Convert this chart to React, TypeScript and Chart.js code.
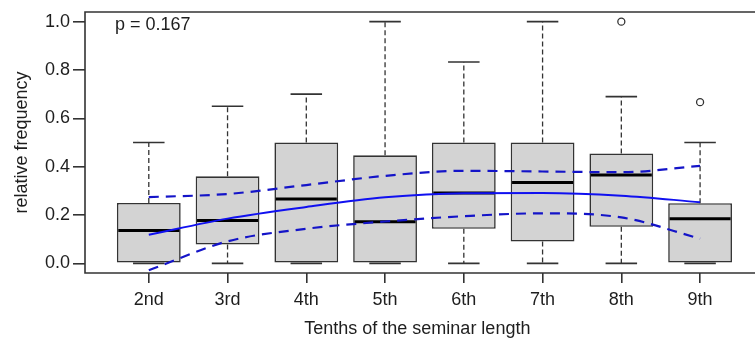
import React, { useEffect, useRef } from 'react';
import { Chart, registerables } from 'chart.js';

Chart.register(...registerables);

const categories = ['2nd', '3rd', '4th', '5th', '6th', '7th', '8th', '9th'];
const whiskerLow = [0, 0, 0, 0, 0, 0, 0, 0];
const q1 = [0, 0.078, 0, 0, 0.143, 0.09, 0.151, 0];
const median = [0.136, 0.177, 0.266, 0.172, 0.291, 0.335, 0.366, 0.184];
const q3 = [0.25, 0.36, 0.5, 0.447, 0.5, 0.5, 0.455, 0.249];
const whiskerHigh = [0.5, 0.65, 0.7, 1.0, 0.833, 1.0, 0.69, 0.5];
const outlierCat = [7, 8];
const outlierVal = [1.0, 0.667];
const fitLine = [0.118, 0.185, 0.233, 0.273, 0.29, 0.291, 0.28, 0.253];
const upperBand = [0.274, 0.287, 0.324, 0.362, 0.383, 0.38, 0.377, 0.403];
const lowerBand = [-0.029, 0.091, 0.143, 0.173, 0.195, 0.207, 0.19, 0.102];
const yTicks = [0, 0.2, 0.4, 0.6, 0.8, 1.0];
const pLabel = 'p = 0.167';

const FONT = '"Liberation Sans", Arial, sans-serif';
const TEXT = '#1e1e1e';
const LINE = '#333333';

export default function App() {
  const ref = useRef<HTMLCanvasElement>(null);

  useEffect(() => {
    document.body.style.margin = '0';
    const canvas = ref.current;
    if (!canvas) return;

    const boxExtras = {
      id: 'boxExtras',
      afterDatasetDraw(chart: any, args: any) {
        if (args.index !== 0) return;
        const xs = chart.scales.x;
        const ys = chart.scales.y;
        const c = chart.ctx as CanvasRenderingContext2D;
        c.save();
        categories.forEach((_, i) => {
          const xc = xs.getPixelForValue(i + 1);
          const hb = xs.getPixelForValue(i + 1.4) - xc;
          const hc = xs.getPixelForValue(i + 1.2) - xc;
          c.strokeStyle = LINE;
          c.lineWidth = 1.3;
          c.setLineDash([5, 3]);
          c.beginPath();
          c.moveTo(xc, ys.getPixelForValue(q3[i]));
          c.lineTo(xc, ys.getPixelForValue(whiskerHigh[i]));
          if (q1[i] > whiskerLow[i]) {
            c.moveTo(xc, ys.getPixelForValue(q1[i]));
            c.lineTo(xc, ys.getPixelForValue(whiskerLow[i]));
          }
          c.stroke();
          c.setLineDash([]);
          c.lineWidth = 1.6;
          c.beginPath();
          const yh = ys.getPixelForValue(whiskerHigh[i]);
          const yl = ys.getPixelForValue(whiskerLow[i]);
          c.moveTo(xc - hc, yh);
          c.lineTo(xc + hc, yh);
          c.moveTo(xc - hc, yl);
          c.lineTo(xc + hc, yl);
          c.stroke();
          c.strokeStyle = '#000000';
          c.lineWidth = 3;
          c.beginPath();
          const ym = ys.getPixelForValue(median[i]);
          c.moveTo(xc - hb + 1, ym);
          c.lineTo(xc + hb - 1, ym);
          c.stroke();
        });
        c.restore();
      },
      afterDraw(chart: any) {
        const c = chart.ctx as CanvasRenderingContext2D;
        const a = chart.chartArea;
        c.save();
        c.strokeStyle = LINE;
        c.lineWidth = 1.6;
        c.beginPath();
        c.moveTo(chart.width, a.top);
        c.lineTo(a.left, a.top);
        c.lineTo(a.left, a.bottom);
        c.lineTo(chart.width, a.bottom);
        c.stroke();
        c.fillStyle = TEXT;
        c.font = `18px ${FONT}`;
        c.textBaseline = 'alphabetic';
        c.textAlign = 'left';
        c.fillText(pLabel, 115, 30);
        c.restore();
      },
    };

    const pts = (arr: number[]) => arr.map((v, i) => ({ x: i + 1, y: v }));

    const chart = new Chart(canvas, {
      type: 'bar',
      data: {
        datasets: [
          {
            type: 'bar',
            data: categories.map((_, i) => ({ x: i + 1, y: [q1[i], q3[i]] })) as any,
            backgroundColor: '#d3d3d3',
            borderColor: LINE,
            borderWidth: 1.6,
            borderSkipped: false,
            barPercentage: 1,
            categoryPercentage: 0.81,
            order: 3,
          } as any,
          {
            type: 'scatter',
            data: outlierCat.map((c, i) => ({ x: c, y: outlierVal[i] })),
            pointRadius: 3.5,
            pointStyle: 'circle',
            backgroundColor: 'rgba(255,255,255,0)',
            borderColor: LINE,
            borderWidth: 1.3,
            order: 2,
          } as any,
          {
            type: 'line',
            data: pts(fitLine),
            borderColor: '#1010f0',
            borderWidth: 2,
            pointRadius: 0,
            cubicInterpolationMode: 'monotone',
            fill: false,
            order: 1,
          } as any,
          {
            type: 'line',
            data: pts(upperBand),
            borderColor: '#1414c8',
            borderWidth: 2.2,
            borderDash: [10, 7],
            pointRadius: 0,
            cubicInterpolationMode: 'monotone',
            fill: false,
            order: 1,
          } as any,
          {
            type: 'line',
            data: pts(lowerBand),
            borderColor: '#1414c8',
            borderWidth: 2.2,
            borderDash: [10, 7],
            pointRadius: 0,
            cubicInterpolationMode: 'monotone',
            fill: false,
            order: 1,
          } as any,
        ],
      },
      options: {
        responsive: false,
        animation: false,
        events: [],
        layout: { padding: { top: 10, right: 0, left: 0, bottom: 0 } },
        plugins: {
          legend: { display: false },
          tooltip: { enabled: false },
        },
        scales: {
          x: {
            type: 'linear',
            offset: false,
            min: 0.19,
            max: 8.63,
            afterBuildTicks: (s: any) => {
              s.ticks = categories.map((_, i) => ({ value: i + 1 }));
            },
            afterFit: (s: any) => {
              s.height = 67;
            },
            ticks: {
              callback: (v: any) => categories[Math.round(Number(v)) - 1] ?? '',
              font: { family: FONT, size: 18 },
              color: TEXT,
              padding: 6,
              autoSkip: false,
              maxRotation: 0,
            },
            grid: {
              display: true,
              offset: false,
              drawOnChartArea: false,
              drawTicks: true,
              tickLength: 10,
              color: LINE,
              lineWidth: 1.6,
            },
            border: { display: false },
            title: {
              display: true,
              text: 'Tenths of the seminar length',
              font: { family: FONT, size: 18 },
              color: TEXT,
              padding: { top: 0, bottom: 0 },
            },
          },
          y: {
            type: 'linear',
            min: -0.04,
            max: 1.04,
            afterBuildTicks: (s: any) => {
              s.ticks = yTicks.map((v) => ({ value: v }));
            },
            afterFit: (s: any) => {
              s.width = 85;
            },
            ticks: {
              callback: (v: any) => Number(v).toFixed(1),
              font: { family: FONT, size: 18, lineHeight: 1 },
              color: TEXT,
              padding: 3,
            },
            grid: {
              display: true,
              drawOnChartArea: false,
              drawTicks: true,
              tickLength: 12,
              color: LINE,
              lineWidth: 1.6,
            },
            border: { display: false },
            title: {
              display: true,
              text: 'relative frequency',
              font: { family: FONT, size: 18 },
              color: TEXT,
              padding: { top: 11, bottom: 0 },
            },
          },
        },
      } as any,
      plugins: [boxExtras as any],
    });

    return () => {
      chart.destroy();
    };
  }, []);

  return (
    <div style={{ width: 755, height: 340, overflow: 'hidden', background: '#ffffff' }}>
      <canvas ref={ref} width={755} height={340} style={{ display: 'block', width: 755, height: 340 }} />
    </div>
  );
}
